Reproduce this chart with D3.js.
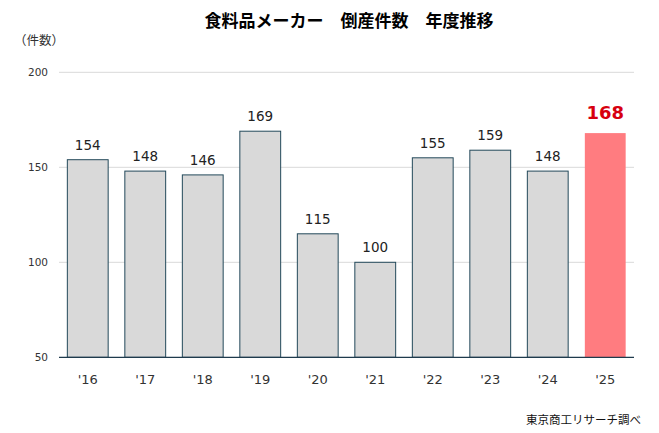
<!DOCTYPE html>
<html>
<head>
<meta charset="utf-8">
<script src="https://cdn.jsdelivr.net/npm/d3@7"></script>
<style>
body { margin: 0; background: #fff; }
text { font-family: "Noto Sans CJK JP", "Noto Sans", sans-serif; }
text.num { font-family: "DejaVu Sans", Verdana, sans-serif; }
</style>
</head>
<body>
<div class="chart"></div>
<script>
const years = ["'16", "'17", "'18", "'19", "'20", "'21", "'22", "'23", "'24", "'25"];
const counts = [154, 148, 146, 169, 115, 100, 155, 159, 148, 168];
const yTicks = [50, 100, 150, 200];

const width = 659;
const height = 433;

const svg = d3.select('.chart')
	.append('svg')
	.attr('width', width)
	.attr('height', height)

const x = d3.scaleBand()
	.domain(years)
	.range([59, 634])
	.paddingInner(0.29)
	.paddingOuter(0.145)

const y = d3.scaleLinear()
	.domain([50, 200])
	.range([357.3, 72.3])

// gridlines
svg.selectAll('.grid')
	.data(yTicks.filter(d => d > 50))
	.enter()
	.append('line')
	.attr('x1', 59)
	.attr('x2', 634)
	.attr('y1', d => y(d))
	.attr('y2', d => y(d))
	.attr('stroke', '#d9d9d9')
	.attr('stroke-width', 1)

// y tick labels
svg.selectAll('.ylab')
	.data(yTicks)
	.enter()
	.append('text')
	.attr('class', 'num')
	.text(d => d)
	.attr('x', 48)
	.attr('y', d => y(d) + 4)
	.attr('text-anchor', 'end')
	.attr('font-size', '10.5px')
	.attr('fill', '#333')

// bars
svg.selectAll('.bar')
	.data(counts)
	.enter()
	.append('rect')
	.attr('x', (d, i) => x(years[i]))
	.attr('y', d => y(d))
	.attr('width', x.bandwidth())
	.attr('height', d => y(50) - y(d))
	.attr('fill', (d, i) => i == counts.length - 1 ? '#ff7c80' : '#d9d9d9')
	.attr('stroke', (d, i) => i == counts.length - 1 ? 'none' : '#23495a')
	.attr('stroke-width', 1)

// baseline
svg.append('line')
	.attr('x1', 59)
	.attr('x2', 634)
	.attr('y1', y(50))
	.attr('y2', y(50))
	.attr('stroke', '#1f3b4d')
	.attr('stroke-width', 1.2)

// value labels
svg.selectAll('.val')
	.data(counts)
	.enter()
	.append('text')
	.attr('class', 'num')
	.text(d => d)
	.attr('x', (d, i) => x(years[i]) + x.bandwidth() / 2)
	.attr('y', (d, i) => i == counts.length - 1 ? y(d) - 14 : y(d) - 10)
	.attr('text-anchor', 'middle')
	.attr('font-size', (d, i) => i == counts.length - 1 ? '18px' : '13.5px')
	.attr('font-weight', (d, i) => i == counts.length - 1 ? 'bold' : 'normal')
	.attr('fill', (d, i) => i == counts.length - 1 ? '#d7000f' : '#222')

// x labels
svg.selectAll('.xlab')
	.data(years)
	.enter()
	.append('text')
	.attr('class', 'num')
	.text(d => d)
	.attr('x', d => x(d) + x.bandwidth() / 2)
	.attr('y', 384)
	.attr('text-anchor', 'middle')
	.attr('font-size', '13px')
	.attr('fill', '#333')

svg.append('text')
	.text('食料品メーカー\u3000倒産件数\u3000年度推移')
	.attr('x', 349)
	.attr('y', 27)
	.attr('text-anchor', 'middle')
	.attr('font-size', '17px')
	.attr('font-weight', 'bold')
	.attr('fill', '#000')

svg.append('text')
	.text('（件数）')
	.attr('x', 14)
	.attr('y', 45)
	.attr('font-size', '12.5px')
	.attr('fill', '#333')

svg.append('text')
	.text('東京商工リサーチ調べ')
	.attr('x', 641)
	.attr('y', 424)
	.attr('text-anchor', 'end')
	.attr('font-size', '11.5px')
	.attr('fill', '#111')
</script>
</body>
</html>
